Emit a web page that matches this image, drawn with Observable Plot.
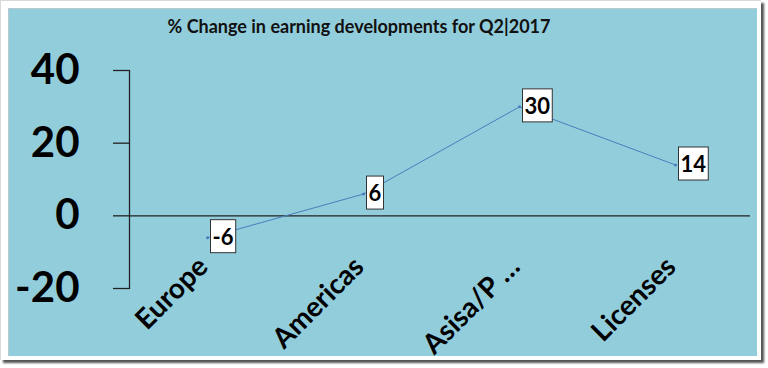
<!DOCTYPE html>
<html><head><meta charset="utf-8">
<script src="https://cdn.jsdelivr.net/npm/d3@7"></script>
<script src="https://cdn.jsdelivr.net/npm/@observablehq/plot@0.6"></script>
<style>
html,body{margin:0;padding:0;background:#fff;}
#frame{position:absolute;left:0;top:0;width:761px;height:360px;background:#fff;box-shadow:3px 3px 2px #555;border-left:1px solid #d8d8d8;border-top:1px solid #d8d8d8;box-sizing:border-box;}
#panel{position:absolute;left:8px;top:8px;width:749px;height:348px;background:#92CDDC;box-shadow:inset 1px 1px 0 #b8c8cc;}
#panel svg{position:absolute;left:0;top:0;}
#title{position:absolute;left:101px;top:7px;width:500px;text-align:center;font-family:Lato,sans-serif;font-size:18px;line-height:22px;font-weight:bold;color:#111;}
</style></head>
<body>
<div id="frame"></div>
<div id="panel"><div id="title"></div></div>
<script>
const categories = ["Europe", "Americas", "Asisa/P …", "Licenses"];
const values = [-6, 6, 30, 14];
const yTicks = [40, 20, 0, -20];
const titleText = "% Change in earning developments for Q2|2017";

const data = categories.map((c, i) => ({category: c, value: values[i]}));

const chart = Plot.plot({
  width: 749, height: 348,
  marginLeft: 121, marginRight: 4, marginTop: 62, marginBottom: 68,
  style: {background: "transparent", fontFamily: "Lato, sans-serif", overflow: "visible", color: "#000"},
  x: {type: "band", domain: categories, padding: 0, axis: null},
  y: {domain: [-20, 40], axis: null},
  marks: [
    Plot.axisY({ticks: yTicks, tickSize: 16, tickPadding: 34, fontSize: 42, fontWeight: "bold",
      tickFormat: d => String(d), label: null, stroke: "#222", strokeWidth: 1.3}),
    Plot.frame({anchor: "left", stroke: "#222", strokeWidth: 1.3}),
    Plot.ruleY([0], {insetRight: 3, stroke: "#222", strokeWidth: 1.3}),
    Plot.line(data, {x: "category", y: "value", stroke: "#4a7ebb", strokeWidth: 1}),
    Plot.dot(data, {x: "category", y: "value", r: 1.5, fill: "#4a7ebb", stroke: null}),
    Plot.text(categories, {x: d => d, frameAnchor: "bottom", dy: -20, dx: 2, rotate: -45, textAnchor: "end",
      fontSize: 28, fontWeight: "bold", fill: "#000"}),
    Plot.text(data, {x: "category", y: "value", text: d => String(d.value), textAnchor: "start", dx: 5,
      fontSize: 22, fontWeight: "bold", fill: "#000"})
  ]
});
const panel = document.getElementById("panel");
panel.insertBefore(chart, panel.firstChild);
document.getElementById("title").textContent = titleText;

// white boxes behind value labels
const groups = chart.querySelectorAll('g[aria-label="text"]');
const labelGroup = groups[groups.length - 1];
labelGroup.querySelectorAll("text").forEach(t => {
  const b = t.getBBox();
  const r = document.createElementNS("http://www.w3.org/2000/svg", "rect");
  const cy = b.y + b.height / 2;
  r.setAttribute("x", b.x - 2);
  r.setAttribute("y", cy - 16.5);
  r.setAttribute("width", b.width + 4);
  r.setAttribute("height", 33);
  r.setAttribute("fill", "#fff");
  r.setAttribute("stroke", "#333");
  r.setAttribute("stroke-width", 1);
  if (t.getAttribute("transform")) r.setAttribute("transform", t.getAttribute("transform"));
  t.parentNode.insertBefore(r, t);
});
</script>
</body></html>
